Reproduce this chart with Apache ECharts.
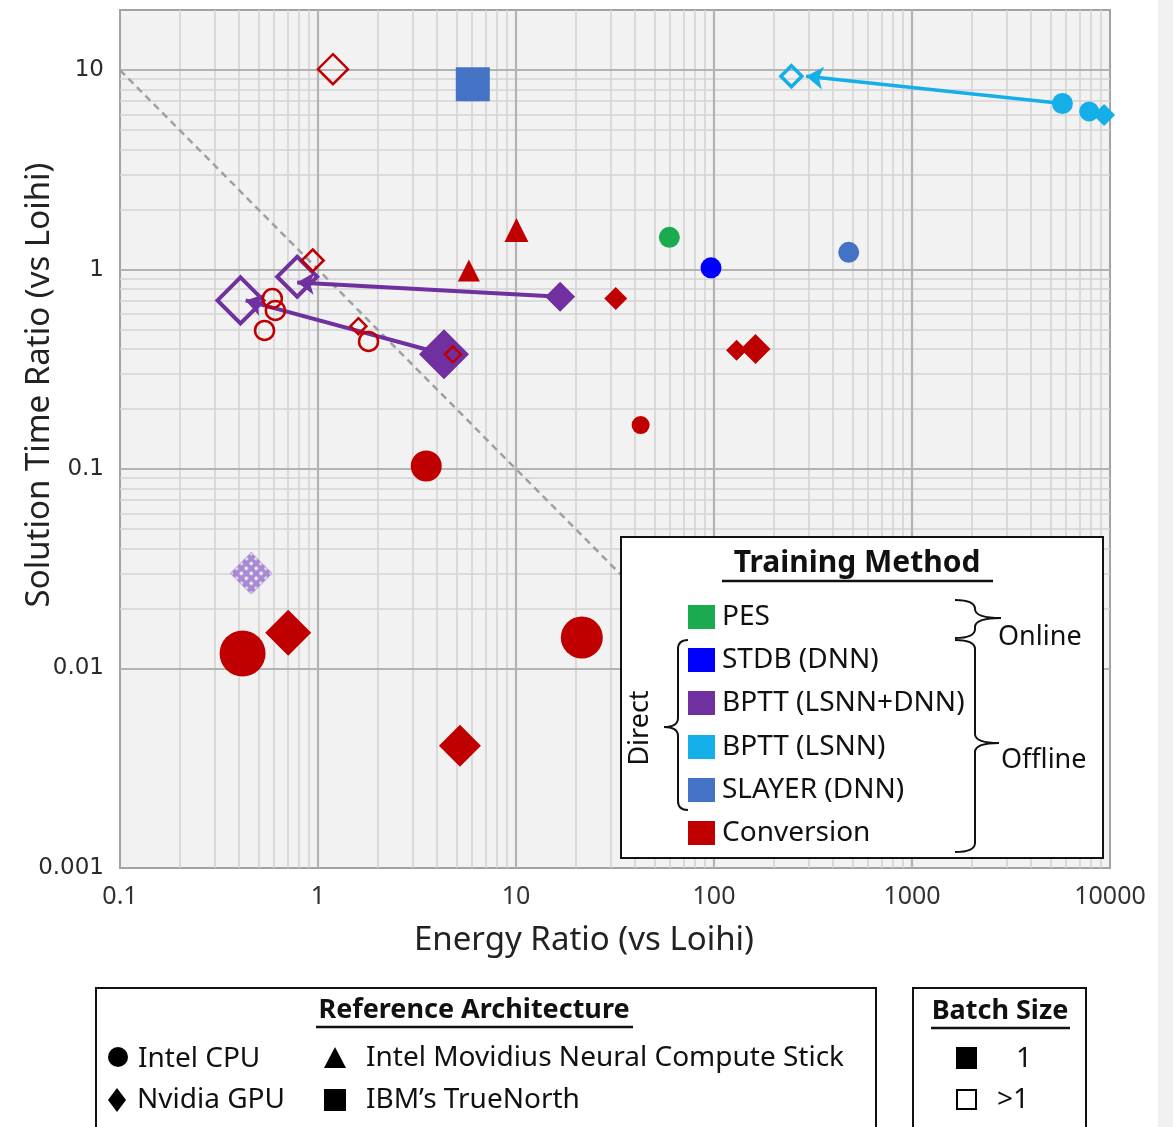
<!DOCTYPE html>
<html>
<head>
<meta charset="utf-8">
<script src="https://cdn.jsdelivr.net/npm/echarts@6.0.0/dist/echarts.min.js"></script>
<style>
  html, body { margin: 0; padding: 0; background: #fff; }
  #main { width: 1173px; height: 1127px; }
</style>
</head>
<body>
<div id="main"></div>
<script>
var chartDom = document.getElementById('main');
var myChart = echarts.init(chartDom);
var option;

var FONT = '"Noto Sans", sans-serif';

// training methods (legend order) and colours
var methodNames = ['PES', 'STDB (DNN)', 'BPTT (LSNN+DNN)', 'BPTT (LSNN)', 'SLAYER (DNN)', 'Conversion'];
var methodColors = ['#1aab50', '#0000ff', '#7030a0', '#14aee8', '#4472c4', '#c00000'];

// [energy ratio, solution time ratio, architecture, batch size]
var pes = [[59.5, 1.45, 'CPU', '1']];
var stdb = [[96.6, 1.02, 'CPU', '1']];
var bpttLsnnDnn = [
  [16.7, 0.73, 'GPU', '1'],
  [0.785, 0.92, 'GPU', '>1'],
  [4.33, 0.376, 'GPU', '1'],
  [0.406, 0.70, 'GPU', '>1'],
  [0.46, 0.030, 'GPU', 'mixed']
];
var bpttLsnn = [
  [246, 9.3, 'GPU', '>1'],
  [5750, 6.8, 'CPU', '1'],
  [7850, 6.2, 'CPU', '1'],
  [9330, 5.96, 'GPU', '1']
];
var slayer = [
  [6.05, 8.5, 'TrueNorth', '1'],
  [479, 1.22, 'CPU', '1']
];
var conversion = [
  [1.19, 10.1, 'GPU', '>1'],
  [0.94, 1.11, 'GPU', '>1'],
  [0.588, 0.716, 'CPU', '>1'],
  [0.609, 0.624, 'CPU', '>1'],
  [0.537, 0.495, 'CPU', '>1'],
  [1.6, 0.52, 'GPU', '>1'],
  [1.8, 0.436, 'CPU', '>1'],
  [4.8, 0.376, 'GPU', '>1'],
  [10.05, 1.58, 'Movidius', '1'],
  [5.78, 0.99, 'Movidius', '1'],
  [31.9, 0.716, 'GPU', '1'],
  [130, 0.394, 'GPU', '1'],
  [162, 0.40, 'GPU', '1'],
  [42.6, 0.166, 'CPU', '1'],
  [3.52, 0.1035, 'CPU', '1'],
  [0.416, 0.0119, 'CPU', '1'],
  [0.707, 0.0151, 'GPU', '1'],
  [21.5, 0.0143, 'CPU', '1'],
  [5.21, 0.0041, 'GPU', '1']
];

// marker sizes (px), same order as the points above
var pesSize = [21];
var stdbSize = [21];
var bpttLsnnDnnSize = [30, 40, 50, 46, 42];
var bpttLsnnSize = [21, 21, 20, 22];
var slayerSize = [34, 21];
var conversionSize = [30, 22, 19, 19, 19, 16, 19, 16, 24, 22, 23, 21, 30, 18, 31, 46, 46, 42, 42];

// arrows: [from, to]
var arrowsLsnnDnn = [[[16.7, 0.73], [0.785, 0.86]], [[4.33, 0.376], [0.431, 0.70]]];
var arrowsLsnn = [[[5750, 6.8], [292, 9.3]]];

var archSymbol = { CPU: 'circle', GPU: 'diamond', Movidius: 'triangle', TrueNorth: 'rect' };

// dotted diamond drawn as an image symbol
function dottedDiamond(size) {
  var c = document.createElement('canvas');
  c.width = size; c.height = size;
  var g = c.getContext('2d');
  var h = size / 2;
  g.beginPath();
  g.moveTo(h, 1); g.lineTo(size - 1, h); g.lineTo(h, size - 1); g.lineTo(1, h); g.closePath();
  g.fillStyle = '#a98bd4';
  g.fill();
  g.lineWidth = 1.5;
  g.strokeStyle = '#9a7cca';
  g.stroke();
  g.save();
  g.clip();
  g.fillStyle = '#ffffff';
  var step = 7;
  for (var i = -4; i <= 4; i++) {
    for (var j = -4; j <= 4; j++) {
      var px = h + (i - j) * step * 0.707;
      var py = h + (i + j) * step * 0.707;
      g.beginPath();
      g.arc(px, py, 1.7, 0, Math.PI * 2);
      g.fill();
    }
  }
  g.restore();
  return 'image://' + c.toDataURL();
}

function makeItems(points, sizes, color, openWidth) {
  return points.map(function (p, i) {
    var item = { value: [p[0], p[1]], symbol: archSymbol[p[2]], symbolSize: sizes[i] };
    if (p[3] === '1') {
      item.itemStyle = { color: color, opacity: 1 };
    } else if (p[3] === '>1') {
      item.itemStyle = { color: 'rgba(255,255,255,0)', borderColor: color, borderWidth: openWidth, opacity: 1 };
    } else {
      item.symbol = dottedDiamond(sizes[i]);
      item.itemStyle = { opacity: 1 };
    }
    return item;
  });
}

function decadeLabel(v) {
  var e = Math.log10(v);
  var r = Math.round(e);
  if (Math.abs(e - r) > 1e-6) return '';
  return r < 0 ? Math.pow(10, r).toFixed(-r) : String(Math.pow(10, r));
}

// grid lines of the log-log plot
var gridLines = [];
var d, k;
for (d = -1; d <= 3; d++) for (k = 2; k <= 9; k++) gridLines.push({ xAxis: k * Math.pow(10, d) });
for (d = -3; d <= 0; d++) for (k = 2; k <= 9; k++) gridLines.push({ yAxis: k * Math.pow(10, d) });
var majorStyle = { color: '#b3b3b3', width: 2.2 };
[1, 10, 100, 1000].forEach(function (v) { gridLines.push({ xAxis: v, lineStyle: majorStyle }); });
[0.01, 0.1, 1, 10].forEach(function (v) { gridLines.push({ yAxis: v, lineStyle: majorStyle }); });

function txt(x, y, text, size, opts) {
  opts = opts || {};
  return {
    type: 'text', x: x, y: y, z: 100, rotation: opts.rotation || 0,
    style: {
      text: text, fill: opts.color || '#111',
      font: (opts.bold ? 'bold ' : '') + size + 'px ' + FONT,
      textAlign: opts.align || 'left', align: opts.align || 'left',
      textVerticalAlign: 'middle', verticalAlign: 'middle'
    }
  };
}
function seg(x1, y1, x2, y2, w) {
  return { type: 'line', z: 100, shape: { x1: x1, y1: y1, x2: x2, y2: y2 }, style: { stroke: '#111', lineWidth: w || 2 } };
}
function curve(x1, y1, x2, y2, cx, cy) {
  return { type: 'bezierCurve', z: 100, shape: { x1: x1, y1: y1, x2: x2, y2: y2, cpx1: cx, cpy1: cy }, style: { stroke: '#111', lineWidth: 2, fill: null } };
}
// vertical curly brace: ends at xEnd, body at xBody, tip at xTip
function brace(xEnd, xBody, xTip, y1, y2, yTip) {
  var r = 9;
  return [
    curve(xEnd, y1, xBody, y1 + r, xBody, y1),
    seg(xBody, y1 + r, xBody, yTip - r),
    curve(xBody, yTip - r, xTip, yTip, xBody, yTip),
    curve(xTip, yTip, xBody, yTip + r, xBody, yTip),
    seg(xBody, yTip + r, xBody, y2 - r),
    curve(xBody, y2 - r, xEnd, y2, xBody, y2)
  ];
}

var rowY = [617, 660, 703, 747, 790, 833];
var graphics = [
  { type: 'rect', z: 0, shape: { x: 1158, y: 0, width: 15, height: 1127 }, style: { fill: '#f0f0f0' } },
  txt(584, 941, 'Energy Ratio (vs Loihi)', 33, { align: 'center', color: '#222' }),
  txt(40, 385, 'Solution Time Ratio (vs Loihi)', 33, { align: 'center', color: '#222', rotation: Math.PI / 2 }),
  // training method legend
  { type: 'rect', z: 99, shape: { x: 621, y: 537, width: 482, height: 321 }, style: { fill: '#fff', stroke: '#111', lineWidth: 2 } },
  txt(857, 563, 'Training Method', 30, { align: 'center', bold: true }),
  seg(722, 581, 993, 581, 2.5),
  txt(640, 728, 'Direct', 27, { align: 'center', rotation: Math.PI / 2 }),
  txt(998, 637, 'Online', 27),
  txt(1001, 760, 'Offline', 27),
  // reference architecture legend
  { type: 'rect', z: 99, shape: { x: 96, y: 988, width: 780, height: 170 }, style: { fill: '#fff', stroke: '#111', lineWidth: 2 } },
  txt(474, 1010, 'Reference Architecture', 27, { align: 'center', bold: true }),
  seg(316, 1027, 633, 1027, 2.5),
  { type: 'circle', z: 100, shape: { cx: 118, cy: 1057, r: 10 }, style: { fill: '#000' } },
  txt(138, 1059, 'Intel CPU', 28),
  { type: 'polygon', z: 100, shape: { points: [[335, 1047], [346, 1068], [324, 1068]] }, style: { fill: '#000' } },
  txt(366, 1058, 'Intel Movidius Neural Compute Stick', 28),
  { type: 'polygon', z: 100, shape: { points: [[117, 1088], [126, 1100], [117, 1112], [108, 1100]] }, style: { fill: '#000' } },
  txt(137, 1100, 'Nvidia GPU', 28),
  { type: 'rect', z: 100, shape: { x: 324, y: 1089, width: 22, height: 22 }, style: { fill: '#000' } },
  txt(366, 1100, 'IBM\u2019s TrueNorth', 28),
  // batch size legend
  { type: 'rect', z: 99, shape: { x: 913, y: 988, width: 173, height: 170 }, style: { fill: '#fff', stroke: '#111', lineWidth: 2 } },
  txt(1000, 1011, 'Batch Size', 27, { align: 'center', bold: true }),
  seg(931, 1028, 1070, 1028, 2.5),
  { type: 'rect', z: 100, shape: { x: 956, y: 1047, width: 21, height: 22 }, style: { fill: '#000' } },
  txt(1024, 1059, '1', 28, { align: 'center' }),
  { type: 'rect', z: 100, shape: { x: 957, y: 1090, width: 19, height: 19 }, style: { fill: '#fff', stroke: '#000', lineWidth: 2 } },
  txt(997, 1100, '>1', 28)
];
methodNames.forEach(function (name, i) {
  graphics.push({ type: 'rect', z: 100, shape: { x: 688, y: rowY[i] - 12, width: 27, height: 24 }, style: { fill: methodColors[i] } });
  graphics.push(txt(722, rowY[i], name, 28));
});
graphics = graphics
  .concat(brace(688, 678, 664, 640, 810, 727))
  .concat(brace(955, 975, 1001, 600, 638, 618))
  .concat(brace(955, 975, 999, 640, 852, 743));

function arrowSeries(arrows, color, width) {
  return {
    type: 'lines', coordinateSystem: 'cartesian2d', z: 3, silent: true,
    symbol: ['none', 'arrow'], symbolSize: 17,
    lineStyle: { color: color, width: width, opacity: 1 },
    data: arrows.map(function (a) { return { coords: a }; })
  };
}

option = {
  animation: false,
  backgroundColor: '#ffffff',
  grid: {
    left: 120, right: 63, top: 10, bottom: 259,
    show: true, backgroundColor: '#f2f2f2', borderColor: '#a3a3a3', borderWidth: 2
  },
  xAxis: {
    type: 'log', logBase: 10, min: 0.1, max: 10000,
    axisLine: { show: false }, axisTick: { show: false }, splitLine: { show: false },
    axisLabel: { formatter: decadeLabel, fontFamily: FONT, fontSize: 25, color: '#333', margin: 16 }
  },
  yAxis: {
    type: 'log', logBase: 10, min: 0.001, max: 20,
    axisLine: { show: false }, axisTick: { show: false }, splitLine: { show: false },
    axisLabel: { formatter: decadeLabel, fontFamily: '"DejaVu Sans", sans-serif', fontSize: 23, color: '#2a2a2a', margin: 16 }
  },
  graphic: { elements: graphics },
  series: [
    {
      type: 'scatter', z: 1, silent: true, symbolSize: 0, data: [[1, 1]],
      markLine: {
        z: 1, silent: true, symbol: 'none', label: { show: false }, animation: false,
        lineStyle: { color: '#d3d3d3', width: 1.6, type: 'solid' },
        emphasis: { disabled: true },
        data: gridLines
      }
    },
    {
      type: 'line', z: 2, silent: true, symbol: 'none',
      lineStyle: { color: '#a0a0a0', width: 2.5, type: [7, 5] },
      data: [[0.1, 10], [100, 0.01]]
    },
    arrowSeries(arrowsLsnn, methodColors[3], 3.5),
    arrowSeries(arrowsLsnnDnn, methodColors[2], 4),
    { name: methodNames[0], type: 'scatter', z: 4, data: makeItems(pes, pesSize, methodColors[0], 2.5) },
    { name: methodNames[1], type: 'scatter', z: 4, data: makeItems(stdb, stdbSize, methodColors[1], 2.5) },
    { name: methodNames[3], type: 'scatter', z: 4, data: makeItems(bpttLsnn, bpttLsnnSize, methodColors[3], 3.5) },
    { name: methodNames[4], type: 'scatter', z: 4, data: makeItems(slayer, slayerSize, methodColors[4], 2.5) },
    { name: methodNames[2], type: 'scatter', z: 4, data: makeItems(bpttLsnnDnn, bpttLsnnDnnSize, methodColors[2], 4) },
    { name: methodNames[5], type: 'scatter', z: 5, data: makeItems(conversion, conversionSize, methodColors[5], 2.5) }
  ]
};

option && myChart.setOption(option);
</script>
</body>
</html>
